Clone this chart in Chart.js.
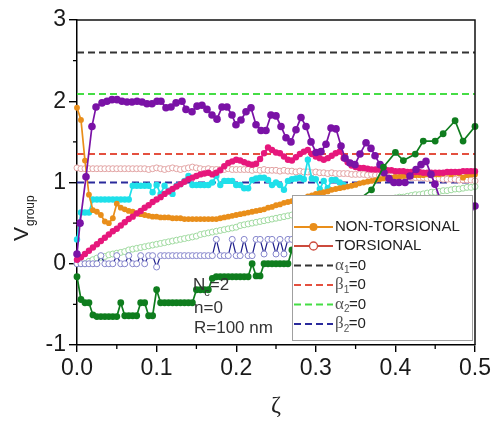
<!DOCTYPE html>
<html><head><meta charset="utf-8">
<script src="https://cdn.jsdelivr.net/npm/chart.js@4.4.0/dist/chart.umd.min.js"></script>
<style>html,body{margin:0;padding:0;background:#fff;}#wrap{width:491px;height:421px;}</style>
</head><body><div id="wrap"><canvas id="c" width="491" height="421"></canvas></div>
<script>
// ---------------- DATA ----------------
const ZETA = [
0,0.005,0.01,0.015,0.02,0.025,0.03,0.035,0.04,0.045,
0.05,0.055,0.06,0.065,0.07,0.075,0.08,0.085,0.09,0.095,
0.1,0.105,0.11,0.115,0.12,0.125,0.13,0.135,0.14,0.145,
0.15,0.155,0.16,0.165,0.17,0.175,0.18,0.185,0.19,0.195,
0.2,0.205,0.21,0.215,0.22,0.225,0.23,0.235,0.24,0.245,
0.25,0.255,0.26,0.265,0.27,0.275,0.28,0.285,0.29,0.295,
0.3,0.305,0.31,0.315,0.32,0.325,0.33,0.335,0.34,0.345,
0.35,0.355,0.36,0.365,0.37,0.375,0.38,0.385,0.39,0.395,
0.4,0.405,0.41,0.415,0.42,0.425,0.43,0.435,0.44,0.445,
0.45,0.455,0.46,0.465,0.47,0.475,0.48,0.485,0.49,0.495,
0.5];

const ORANGE = [
1.92,1.77,1.27,0.85,0.66,0.64,0.60,0.52,0.50,0.56,
0.74,0.69,0.67,0.65,0.64,0.62,0.61,0.60,0.59,0.58,
0.58,0.57,0.57,0.57,0.56,0.56,0.56,0.55,0.55,0.55,
0.55,0.55,0.55,0.55,0.55,0.55,0.56,0.57,0.58,0.59,
0.60,0.61,0.62,0.63,0.64,0.65,0.66,0.67,0.69,0.70,
0.72,0.73,0.75,0.76,0.77,0.78,0.80,0.81,0.83,0.84,
0.86,0.87,0.88,0.89,0.91,0.92,0.93,0.94,0.95,0.96,
0.97,0.99,1.00,1.01,1.02,1.03,1.04,1.05,1.06,1.06,
1.07,1.07,1.08,1.08,1.08,1.09,1.09,1.09,1.10,1.10,
1.10,1.10,1.11,1.12,1.10,1.12,1.11,1.06,1.09,1.10,
1.10];

const PINK = [
0.05,0.08,0.12,0.16,0.20,0.24,0.28,0.32,0.36,0.40,
0.43,0.47,0.51,0.55,0.58,0.62,0.65,0.69,0.72,0.76,
0.79,0.82,0.86,0.89,0.92,0.95,0.98,1.01,1.04,1.06,
1.08,1.10,1.11,1.12,1.10,1.12,1.15,1.20,1.24,1.26,
1.28,1.27,1.25,1.23,1.22,1.23,1.29,1.36,1.43,1.40,
1.37,1.36,1.32,1.28,1.27,1.31,1.35,1.38,1.40,1.35,
1.32,1.30,1.28,1.30,1.33,1.36,1.38,1.30,1.25,1.21,
1.19,1.18,1.18,1.17,1.16,1.16,1.16,1.15,1.15,1.15,
1.14,1.14,1.14,1.13,1.13,1.13,1.13,1.12,1.12,1.12,
1.12,1.12,1.12,1.13,1.13,1.13,1.13,1.14,1.14,1.14,
1.14];

const CYAN = [
0.30,0.63,0.63,0.63,0.79,0.79,0.79,0.79,0.79,0.79,
0.79,0.79,0.79,0.79,0.96,0.96,0.96,0.96,0.96,0.88,
0.97,0.86,0.96,0.90,0.86,0.96,0.98,1.02,1.08,0.97,
0.97,0.97,0.97,0.97,1.00,1.08,0.97,1.02,1.02,1.02,
0.97,0.97,0.93,0.93,1.03,1.05,1.06,1.06,1.03,0.97,
1.00,0.97,0.91,1.02,1.04,1.05,1.06,1.04,1.28,1.05,
1.04,0.92,1.02,0.93,1.03,1.03,1.00,0.97,null,null,
null,null,null,null,null,null,null,null,null,null,
null,null,null,null,null,null,null,null,null,null,
null,null,null,null,null,null,null,null,null,null,
null];

const GREEN = [
-0.16,-0.44,-0.48,-0.48,-0.63,-0.65,-0.65,-0.65,-0.65,-0.65,
-0.65,-0.48,-0.64,-0.64,-0.64,-0.64,-0.48,-0.48,-0.64,-0.64,
-0.32,-0.48,-0.48,-0.48,-0.48,-0.48,-0.48,-0.48,-0.48,-0.48,
-0.32,-0.32,-0.32,-0.32,-0.18,-0.16,-0.16,-0.16,-0.16,-0.16,
-0.16,-0.16,-0.16,-0.16,0.00,-0.15,-0.15,0.00,0.00,0.00,
0.00,0.00,0.00,0.00,0.17,null,null,null,null,null,
null,null,null,null,null,null,null,null,null,null,
null,null,null,null,0.91,null,null,1.19,null,null,
1.37,null,1.27,null,null,1.35,null,1.51,null,null,
1.51,null,1.60,null,null,1.76,null,1.51,null,null,
1.69];

const TORSIONAL = [
1.18,1.17,1.17,1.17,1.17,1.17,1.17,1.17,1.17,1.17,
1.17,1.17,1.17,1.17,1.17,1.17,1.17,1.17,1.16,1.17,
1.18,1.17,1.16,1.17,1.18,1.17,1.16,1.17,1.18,1.19,
1.18,1.17,1.16,1.17,1.16,1.16,1.16,1.16,1.17,1.16,
1.16,1.16,1.16,1.16,1.15,1.16,1.15,1.16,1.15,1.15,
1.15,1.14,1.15,1.14,1.14,1.13,1.14,1.13,1.13,1.12,
1.13,1.12,1.12,1.11,1.12,1.11,1.11,1.11,1.11,1.10,
1.10,1.10,1.10,1.09,1.10,1.09,1.09,1.08,1.08,1.08,
1.07,1.07,1.07,1.07,1.06,1.06,1.06,1.06,1.05,1.05,
1.05,1.05,1.04,1.04,1.04,1.04,1.03,1.03,1.03,1.03,
1.02];

const LIGHT_GREEN_OPEN = [
0.00,0.00,0.00,0.03,0.05,0.07,0.08,0.09,0.11,0.12,
0.13,0.14,0.15,0.17,0.18,0.19,0.20,0.21,0.22,0.23,
0.24,0.25,0.26,0.27,0.28,0.29,0.30,0.31,0.32,0.33,
0.34,0.36,0.37,0.38,0.39,0.40,0.41,0.42,0.43,0.44,
0.45,0.47,0.48,0.49,0.50,0.51,0.52,0.53,0.54,0.55,
0.56,0.57,0.58,0.59,0.60,0.61,0.62,0.62,0.63,0.64,
0.65,0.66,0.66,0.67,0.68,0.69,0.70,0.70,0.71,0.72,
0.73,0.74,0.74,0.75,0.76,0.77,0.78,0.78,0.79,0.80,
0.81,0.82,0.82,0.83,0.84,0.85,0.85,0.86,0.87,0.88,
0.88,0.89,0.90,0.90,0.91,0.92,0.92,0.93,0.94,0.94,
0.95];

const NAVY_OPEN = [
0.00,0.00,0.00,0.00,0.00,0.00,0.10,0.00,0.00,0.00,
0.10,0.00,0.00,0.10,0.00,0.00,0.10,0.00,0.10,0.10,
-0.04,0.10,0.10,0.10,0.10,0.10,0.10,0.10,0.10,0.10,
0.10,0.10,0.10,0.10,0.10,0.30,0.10,0.10,0.10,0.30,
0.10,0.10,0.30,0.10,0.10,0.30,0.30,0.12,0.30,0.30,
0.12,0.30,0.12,0.30,0.30,0.30,0.30,0.30,null,null,
null,null,null,null,null,null,null,null,null,null,
null,null,null,null,null,null,null,null,null,null,
null,null,null,null,null,null,null,null,null,null,
null,null,null,null,null,null,null,null,null,null,
null];

const PURPLE_ZETA = [
0,0.0038,0.0113,0.0188,0.0239,0.0314,0.0377,0.0440,0.0503,0.0565,
0.0628,0.0691,0.0754,0.0817,0.0879,0.0942,0.1005,0.1055,0.1118,0.1181,
0.1244,0.1319,0.1369,0.1445,0.1508,0.1570,0.1633,0.1696,0.1759,0.1822,
0.1884,0.1947,0.1997,0.2060,0.2123,0.2186,0.2249,0.2312,0.2374,0.2437,
0.2500,0.2563,0.2626,0.2688,0.2751,0.2814,0.2877,0.2940,0.3003,0.3065,
0.3128,0.3191,0.3254,0.3317,0.3367,0.3430,0.3492,0.3555,0.3631,0.3693,
0.3744,0.3807,0.3857,0.3920,0.3982,0.4045,0.4121,0.4183,0.4259,0.4322,
0.4384,0.4447,0.4497,0.4560,0.4686,0.4812,0.4937,0.5000];
const PURPLE = [
0.12,0.50,1.07,1.69,1.93,1.98,2.00,2.02,2.02,2.00,
1.99,1.99,2.00,1.99,1.97,1.97,2.00,2.00,1.92,1.93,
1.98,2.00,1.90,1.87,1.94,1.95,1.90,1.83,1.78,1.93,
1.93,1.83,1.71,1.77,1.87,1.92,1.71,1.64,1.64,1.83,
1.82,1.69,1.55,1.50,1.65,1.80,1.69,1.50,1.37,1.38,
1.47,1.67,1.66,1.45,1.30,1.24,1.22,1.35,1.49,1.42,
1.33,1.22,1.12,1.05,1.00,1.00,1.00,1.08,1.16,1.22,
1.26,1.10,0.98,0.80,0.70,0.66,0.68,0.71];

// reference levels (dashed lines)
const ALPHA1_LEVEL = 2.6;
const BETA1_LEVEL = 1.35;
const ALPHA2_LEVEL = 2.09;
const BETA2_LEVEL = 1.0;

const X_MIN = 0, X_MAX = 0.5, X_STEP = 0.1;
const Y_MIN = -1, Y_MAX = 3, Y_STEP = 1;
const X_MINOR = [0.05,0.15,0.25,0.35,0.45];
const Y_MINOR = [-0.5,0.5,1.5,2.5];

const LEGEND_ITEMS = ['NON-TORSIONAL','TORSIONAL','α|1','β|1','α|2','β|2'];
const ANNOT = ['N|c|=2','n=0','R=100 nm'];

// ---------------- CHART ----------------
const SANS = "'Liberation Sans', Arial, sans-serif";
const SERIF = "'Liberation Serif', 'DejaVu Serif', serif";
const C = {
  orange:'#e98e1a', purple:'#7a12a6', pink:'#e6177c', cyan:'#1fe0ea', green:'#0f7d1e',
  tors:'#e2a2a2', lgreen:'#9fda9f', navyLine:'#1f1f8c', navyPt:'#8585cc',
  a1:'#333333', b1:'#e4503f', a2:'#45dd45', b2:'#2a2a9c', torsLeg:'#cc4a3c'
};
const mk = (xs, ys) => xs.map((x,i)=>({x:x, y:ys[i]}));
const hline = v => [{x:X_MIN,y:v},{x:X_MAX,y:v}];

function filled(label, data, color, r, order, extra){
  return Object.assign({label, data, borderColor:color, backgroundColor:color,
    pointBackgroundColor:color, pointBorderColor:color, pointRadius:r, pointBorderWidth:0,
    borderWidth:1.7, order, clip:false, tension:0}, extra||{});
}
function open(label, data, line, pt, order){
  return {label, data, borderColor:line, backgroundColor:'#fff', pointBackgroundColor:'#fff',
    pointBorderColor:pt, pointRadius:3, pointBorderWidth:1, borderWidth:1.2, order, clip:false, tension:0};
}
function dashed(label, v, color, order){
  return {label, data:hline(v), borderColor:color, borderDash:[7,4], borderWidth:2,
    pointRadius:0, order, clip:false};
}

const decor = {
  id:'decor',
  afterDraw(chart){
    const ctx = chart.ctx, a = chart.chartArea, xs = chart.scales.x, ys = chart.scales.y;
    ctx.save();
    // frame top/right
    ctx.strokeStyle = '#111'; ctx.lineWidth = 1.5;
    ctx.beginPath();
    ctx.moveTo(a.left, a.top); ctx.lineTo(a.right, a.top); ctx.lineTo(a.right, a.bottom);
    ctx.stroke();
    // minor ticks
    ctx.lineWidth = 1.3; ctx.strokeStyle = '#000';
    X_MINOR.forEach(v=>{ const p = xs.getPixelForValue(v); ctx.beginPath(); ctx.moveTo(p,a.bottom); ctx.lineTo(p,a.bottom+4); ctx.stroke(); });
    Y_MINOR.forEach(v=>{ const p = ys.getPixelForValue(v); ctx.beginPath(); ctx.moveTo(a.left,p); ctx.lineTo(a.left-4,p); ctx.stroke(); });

    // annotation
    ctx.fillStyle = '#333'; ctx.textBaseline = 'alphabetic'; ctx.textAlign = 'left';
    const ax = a.left + 117;
    const nParts = ANNOT[0].split('|');
    ctx.font = `17px ${SANS}`;
    ctx.fillText(nParts[0], ax-1, a.top+270);
    const nw = ctx.measureText(nParts[0]).width;
    ctx.font = `11px ${SANS}`;
    ctx.fillText(nParts[1], ax-1+nw-1, a.top+276);
    const cw = ctx.measureText(nParts[1]).width;
    ctx.font = `17px ${SANS}`;
    ctx.fillText(nParts[2], ax-1+nw-1+cw, a.top+270);
    ctx.fillText(ANNOT[1], ax, a.top+293);
    ctx.fillText(ANNOT[2], ax, a.top+313);

    // y title
    ctx.save();
    ctx.translate(28, 241); ctx.rotate(-Math.PI/2);
    ctx.fillStyle = '#222';
    ctx.font = `21px ${SANS}`; ctx.fillText('V', 0, 0);
    const vw = ctx.measureText('V').width;
    ctx.font = `12px ${SANS}`; ctx.fillText('group', vw+1, 6);
    ctx.restore();

    // x title
    ctx.fillStyle = '#222'; ctx.textAlign = 'center';
    ctx.font = `24px ${SERIF}`;
    ctx.fillText('ζ', (a.left+a.right)/2, 412);

    // legend
    const L = {x:a.left+215, y:a.top+175, w:180, h:145};
    ctx.fillStyle = '#fff'; ctx.fillRect(L.x, L.y, L.w, L.h);
    ctx.strokeStyle = '#a0a0a0'; ctx.lineWidth = 1; ctx.strokeRect(L.x+0.5, L.y+0.5, L.w, L.h);
    const rows = [32, 51, 70.5, 90, 109.5, 129];
    const cols = [C.orange, C.torsLeg, C.a1, C.b1, C.a2, C.b2];
    const sx0 = L.x+2, sx1 = L.x+41, tx = L.x+43;
    ctx.textAlign = 'left'; ctx.textBaseline = 'middle';
    LEGEND_ITEMS.forEach((t,i)=>{
      const y = L.y + rows[i];
      ctx.strokeStyle = cols[i]; ctx.lineWidth = i<2 ? 1.8 : 2;
      ctx.setLineDash(i<2 ? [] : [7,4]);
      ctx.beginPath(); ctx.moveTo(sx0, y); ctx.lineTo(sx1, y); ctx.stroke();
      ctx.setLineDash([]);
      if (i===0){ ctx.fillStyle = C.orange; ctx.beginPath(); ctx.arc((sx0+sx1)/2, y, 4, 0, 2*Math.PI); ctx.fill(); }
      if (i===1){ ctx.fillStyle = '#fff'; ctx.lineWidth=1.3; ctx.beginPath(); ctx.arc((sx0+sx1)/2, y, 4, 0, 2*Math.PI); ctx.fill(); ctx.stroke(); }
      ctx.fillStyle = '#222';
      if (i<2){ ctx.font = `15px ${SANS}`; ctx.fillText(t, tx, y); }
      else {
        const p = t.split('|');
        ctx.fillStyle = '#555'; ctx.font = `17px ${SERIF}`; ctx.fillText(p[0], tx, y);
        const gw = ctx.measureText(p[0]).width;
        ctx.font = `10px ${SANS}`; ctx.fillText(p[1], tx+gw, y+5);
        ctx.fillStyle = '#222'; ctx.font = `15px ${SANS}`; ctx.fillText('=0', tx+gw+5, y);
      }
    });
    ctx.restore();
  }
};

new Chart(document.getElementById('c'), {
  type:'line',
  data:{ datasets:[
    filled('green', mk(ZETA, GREEN), C.green, 3.4, 0, {spanGaps:true}),
    filled('purple', mk(PURPLE_ZETA, PURPLE), C.purple, 3.8, 1),
    filled('pink', mk(ZETA, PINK), C.pink, 3.2, 2),
    filled('orange', mk(ZETA, ORANGE), C.orange, 2.9, 3),
    filled('cyan', mk(ZETA, CYAN), C.cyan, 3.2, 4),
    open('navy', mk(ZETA, NAVY_OPEN), C.navyLine, C.navyPt, 5),
    open('lgreen', mk(ZETA, LIGHT_GREEN_OPEN), C.lgreen, C.lgreen, 6),
    open('torsional', mk(ZETA, TORSIONAL), C.tors, C.tors, 7),
    dashed('a1', ALPHA1_LEVEL, C.a1, 8),
    dashed('b1', BETA1_LEVEL, C.b1, 9),
    dashed('a2', ALPHA2_LEVEL, C.a2, 10),
    dashed('b2', BETA2_LEVEL, C.b2, 11)
  ]},
  options:{
    responsive:false, animation:false, devicePixelRatio:1,
    layout:{padding:{top:20, right:16, left:0, bottom:0}},
    plugins:{legend:{display:false}, tooltip:{enabled:false}},
    scales:{
      x:{type:'linear', min:X_MIN, max:X_MAX,
        ticks:{stepSize:X_STEP, callback:v=>Number(v).toFixed(1), font:{family:SANS, size:23}, color:'#1a1a1a', padding:3, maxRotation:0, autoSkip:false},
        grid:{drawOnChartArea:false, drawTicks:true, tickLength:7, color:'#000', lineWidth:1.4},
        border:{display:true, color:'#000', width:1.5},
        afterFit(s){ s.height = 76; s.paddingLeft = 0; s.paddingRight = 0; }
      },
      y:{type:'linear', min:Y_MIN, max:Y_MAX,
        ticks:{stepSize:Y_STEP, font:{family:SANS, size:23}, color:'#1a1a1a', padding:3},
        grid:{drawOnChartArea:false, drawTicks:true, tickLength:8, color:'#000', lineWidth:1.4},
        border:{display:true, color:'#000', width:1.5},
        afterFit(s){ s.width = 77; s.paddingTop = 0; s.paddingBottom = 0; }
      }
    }
  },
  plugins:[decor]
});
</script></body></html>
